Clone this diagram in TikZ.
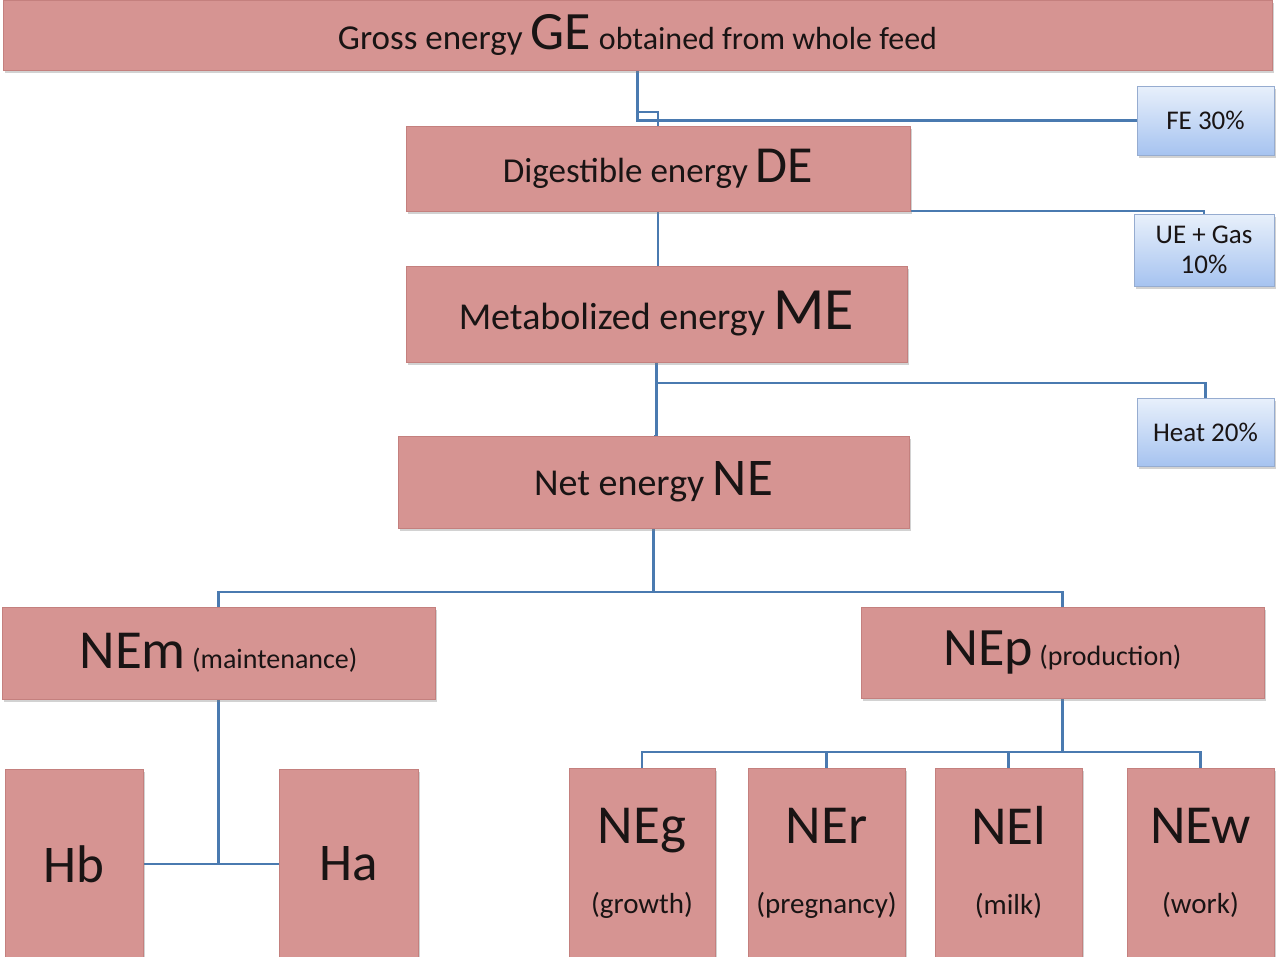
\documentclass[tikz,border=0pt]{standalone}
\usepackage{fontspec}
\setmainfont{Carlito}
\usetikzlibrary{shadows}
\pgfdeclarelayer{background}
\pgfdeclarelayer{paper}
\pgfsetlayers{paper,background,main}
\definecolor{pinkfill}{RGB}{214,148,146}
\definecolor{pinkborder}{RGB}{196,128,126}
\definecolor{bluetop}{RGB}{232,240,251}
\definecolor{bluebot}{RGB}{166,195,240}
\definecolor{blueborder}{RGB}{150,172,208}
\definecolor{connblue}{RGB}{74,122,176}
\definecolor{txt}{RGB}{25,20,20}
\newcommand{\fs}[1]{\fontsize{#1}{#1}\selectfont}
\newcommand{\twoline}[2]{\fs{55}\vphantom{NEg}#1\\[38pt]\fs{29}\vphantom{(gy)}#2}
\tikzset{
  pbox/.style={draw=pinkborder, line width=0.8pt, fill=pinkfill, inner sep=0pt, outer sep=0pt,
    text=txt, drop shadow={shadow xshift=2pt, shadow yshift=-3pt, opacity=0.35}},
  bbox/.style={draw=blueborder, line width=0.8pt, top color=bluetop, bottom color=bluebot,
    inner sep=0pt, outer sep=0pt, text=txt, align=center,
    drop shadow={shadow xshift=2pt, shadow yshift=-3pt, opacity=0.35}},
  conn/.style={draw=connblue, line width=2.6pt},
  tall/.style={pbox, align=center}
}
\begin{document}
\begin{tikzpicture}[x=1pt,y=-1pt]
\begin{pgfonlayer}{paper}
\fill[white] (0,0) rectangle (1276,956);
\end{pgfonlayer}
\useasboundingbox (0,0) rectangle (1276,956);
% main boxes
\node[pbox, minimum width=1269pt, minimum height=70pt] (ge) at (637.5,35)
  {\fs{35}Gross energy {\fs{54}GE} {\fs{32}obtained from whole feed}};
\node[pbox, minimum width=504pt, minimum height=85pt] (de) at (658,168.5)
  {\fs{35}Digestible energy {\fs{52}DE}};
\node[pbox, minimum width=501pt, minimum height=96pt] (me) at (656.5,314)
  {\fs{38}Metabolized energy {\fs{60}ME}};
\node[pbox, minimum width=511pt, minimum height=92pt] (ne) at (653.5,482)
  {\fs{38}Net energy {\fs{53}NE}};
\node[pbox, minimum width=433pt, minimum height=92pt] (nem) at (218.5,653)
  {\fs{55}NEm{\fs{28} (maintenance)}};
\node[pbox, minimum width=403pt, minimum height=91pt] (nep) at (1062.5,652.5)
  {\fs{54}NEp{\fs{28} (production)}};
% loss boxes
\node[bbox, minimum width=137pt, minimum height=69pt] (fe) at (1205.5,120.5)
  {\fs{27}FE 30\%};
\node[bbox, minimum width=140pt, minimum height=72pt] (ue) at (1204,250)
  {\fs{27}UE + Gas\\[10pt]\fs{27}10\%};
\node[bbox, minimum width=137pt, minimum height=68pt] (heat) at (1205.5,432)
  {\fs{27}Heat 20\%};
% bottom boxes
\node[pbox, minimum width=138pt, minimum height=190pt] (hb) at (74,864) {\fs{53}Hb};
\node[pbox, minimum width=139pt, minimum height=190pt] (ha) at (348.5,864) {\fs{53}Ha};
\node[tall, minimum width=146pt, minimum height=190pt] (neg) at (642,863)
  {\twoline{NEg}{(growth)}};
\node[tall, minimum width=157pt, minimum height=190pt] (ner) at (826.5,863)
  {\twoline{NEr}{(pregnancy)}};
\node[tall, minimum width=147pt, minimum height=190pt] (nel) at (1008.5,863)
  {\twoline{NEl}{(milk)}};
\node[tall, minimum width=147pt, minimum height=190pt] (new) at (1200.5,863)
  {\twoline{NEw}{(work)}};
% connectors
\begin{pgfonlayer}{background}
\draw[conn] (ge.south) |- (fe.west);
\coordinate (j1) at (ge.south |- 0,112);
\draw[conn] (j1) -| (de.north);
\draw[conn] (de.south) -- (de.south |- me.north);
\draw[conn] (de.south) -| (ue.north);
\draw[conn] (me.south) -- ++(0,21) -| (heat.north);
\draw[conn] (me.south) -- ++(0,21) -- (me.south |- ne.north) -- (ne.north);
\draw[conn] (ne.south) -- ++(0,64) -| (nem.north);
\draw[conn] (ne.south) -- ++(0,64) -| (nep.north);
\draw[conn] (nem.south) -- (nem.south |- hb.east);
\draw[conn] (hb.east) -- (ha.west);
\draw[conn] (nep.south) -- ++(0,54) -| (neg.north);
\draw[conn] (nep.south) -- ++(0,54) -| (ner.north);
\draw[conn] (nep.south) -- ++(0,54) -| (nel.north);
\draw[conn] (nep.south) -- ++(0,54) -| (new.north);
\end{pgfonlayer}
\end{tikzpicture}
\end{document}
